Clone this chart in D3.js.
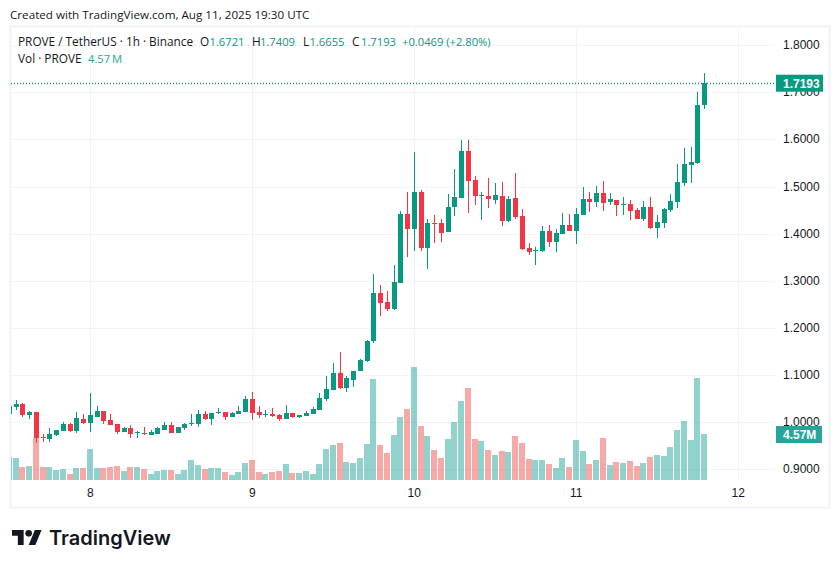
<!DOCTYPE html>
<html><head><meta charset="utf-8">
<script src="https://cdn.jsdelivr.net/npm/d3@7"></script>
<style>html,body{margin:0;padding:0;background:#fff}svg{display:block}</style></head>
<body><svg id="c" width="839" height="568"></svg>
<script>
const startHourOffset = -12; // first candle: 12:00 on the 7th, counted from 00:00 on the 8th
const opens = [1.0177,1.0326,1.039,1.0156,1.022,.9695,.9645,.9731,.9816,.9965,.9816,1.0071,
 .9986,1.0113,1.0241,1.005,.9965,.9794,.9879,.9766,.9773,.9731,.9752,.9837,.9943,.9773,.9879,.9972,.9965,1.0177,1.0071,1.0199,1.022,1.0113,1.0177,1.022,
 1.0496,1.022,1.0156,1.0177,1.0156,1.0071,1.0199,1.0113,1.0135,1.0177,1.0262,1.0496,1.0688,1.1049,1.073,1.09,1.1092,1.1305,1.173,1.2747,1.2557,1.2409,1.2958,1.4412,
 1.4092,1.4879,1.3688,1.422,1.422,1.4029,1.456,1.4752,1.5752,1.5135,1.4794,1.4794,1.4709,1.4794,1.4263,1.4752,1.4369,1.3688,1.3625,1.3625,1.405,1.3816,1.3986,1.4178,
 1.405,1.439,1.4731,1.4667,1.4858,1.4667,1.4709,1.4603,1.4624,1.4497,1.4305,1.456,1.4114,1.422,1.4497,1.4667,1.5071,1.5454,1.5496,1.6721];
const highs = [1.0347,1.0475,1.0411,1.0241,1.022,.9752,.9879,.9837,1.0007,.9986,1.022,1.0177,
 1.0624,1.0347,1.0241,1.0177,.9965,.9901,.9943,.9816,.9901,.9837,.9901,1.0007,1.0007,.9901,.9986,1.0177,1.0262,1.0241,1.0199,1.0305,1.022,1.022,1.0347,1.056,
 1.0645,1.0347,1.0262,1.0305,1.0177,1.0369,1.0199,1.0156,1.0241,1.0326,1.0624,1.0986,1.1262,1.1496,1.0986,1.1092,1.1347,1.1752,1.3148,1.2916,1.2789,1.3337,1.4476,1.4879,
 1.573,1.4922,1.4305,1.439,1.4305,1.4837,1.5369,1.5986,1.5986,1.522,1.4879,1.5177,1.5071,1.5092,1.4794,1.5284,1.4518,1.3795,1.371,1.4156,1.4178,1.4092,1.4433,1.4412,
 1.4539,1.4986,1.4879,1.5007,1.5113,1.4858,1.4709,1.4773,1.4709,1.4539,1.4688,1.4773,1.439,1.4539,1.4837,1.5475,1.5815,1.5837,1.7007,1.7409];
const lows = [1.0177,1.0262,1.0113,1.0071,.956,.9582,.9582,.9709,.9816,.9794,.9773,.9965,
 .9801,1.0113,.9965,.9943,.9752,.9794,.9667,.9667,.9731,.9731,.9752,.9837,.9773,.9773,.9837,.9922,.9901,1.005,.9943,1.0177,1.005,1.0113,1.0177,1.022,
 1.005,1.0092,1.0113,1.0113,1.0028,1.0071,1.0092,1.0092,1.0135,1.0177,1.0262,1.0454,1.0688,1.0709,1.0645,1.0752,1.1092,1.1284,1.168,1.2262,1.2367,1.2388,1.2958,1.3497,
 1.3625,1.3625,1.3242,1.3795,1.3816,1.4029,1.4369,1.4752,1.4433,1.4603,1.4284,1.4539,1.4624,1.4156,1.4241,1.4305,1.3646,1.354,1.3327,1.3603,1.371,1.3603,1.3986,1.405,
 1.3773,1.439,1.4454,1.456,1.4475,1.4603,1.4369,1.439,1.4284,1.4305,1.4263,1.4092,1.3901,1.4114,1.4454,1.4539,1.5007,1.5071,1.5475,1.6655];
const closes = [1.0347,1.039,1.0156,1.022,.9667,.9674,.9752,.9837,.9965,.9816,1.0092,.9986,
 1.0156,1.0241,1.0028,.9943,.9794,.9879,.9752,.9787,.9759,.9794,.9879,.9943,.9773,.9901,.9965,.9986,1.0177,1.0071,1.0199,1.022,1.0113,1.0199,1.0241,1.0496,
 1.0199,1.0156,1.0177,1.0135,1.0071,1.0199,1.0113,1.0156,1.0199,1.0284,1.0518,1.0709,1.1049,1.073,1.0943,1.1092,1.1326,1.173,1.2747,1.2536,1.2409,1.2979,1.4412,1.4092,
 1.4879,1.3688,1.422,1.4199,1.4007,1.456,1.4773,1.5752,1.5113,1.4794,1.4816,1.4731,1.4816,1.4263,1.4731,1.4348,1.3667,1.3603,1.3646,1.405,1.3816,1.4007,1.4178,1.405,
 1.4412,1.4731,1.4667,1.4858,1.4645,1.4731,1.4603,1.4624,1.4475,1.4305,1.456,1.4114,1.4241,1.4518,1.4688,1.5092,1.5475,1.5518,1.673,1.7193];
const volumes = [2.28,2.19,1.29,1.39,4.17,1.29,1.29,.99,1.09,.60,1.19,1.19,
 3.08,1.19,1.19,1.29,1.39,.89,1.29,1.29,1.09,.60,.89,.99,.99,.60,.99,1.99,1.49,1.09,1.19,1.19,.79,.50,.79,1.69,
 1.99,.79,.60,.79,.89,1.59,.70,.70,.89,.60,1.59,3.08,3.48,3.68,1.79,1.69,2.19,3.58,10.03,3.48,2.68,4.47,6.26,7.05,
 11.23,5.36,4.37,2.98,2.19,4.07,5.76,7.85,9.14,4.07,3.87,2.98,2.48,2.88,2.78,4.37,3.68,2.09,1.99,1.99,1.59,1.19,2.19,1.29,
 3.97,2.88,1.59,1.99,4.17,1.49,1.79,1.69,1.89,1.39,1.69,2.28,2.48,2.38,3.28,4.97,5.86,3.97,10.13,4.57];
const priceTicks = [1.8,1.7,1.6,1.5,1.4,1.3,1.2,1.1,1.0,0.9];
const dayTicks = [8,9,10,11,12];
const lastClose = 1.7193, lastVolumeLabel = "4.57M";
const legendLine1 = [["PROVE / TetherUS · 1h · Binance",18,"i"],["O",200,"i"],["1.6721",209.5,"v"],["H",252,"i"],["1.7409",260,"v"],["L",303,"i"],["1.6655",309.5,"v"],["C",352,"i"],["1.7193",361,"v"],["+0.0469 (+2.80%)",402,"v"]];

const UP="#089981", DOWN="#f23645", INK="#131722", GRID="#f2f3f6", FRAME="#f0f3fa";
const UI="'Open Sans',sans-serif", AX="'Liberation Sans',sans-serif";
const svg=d3.select("#c");
const plotL=10,plotR=775,plotT=27,plotB=480;
const x=d3.scaleLinear().domain([0,24]).range([90.3,252.3]);
const y=d3.scaleLinear().domain([0.9,1.7]).range([469.3,92.3]);
const hv=d3.scaleLinear().domain([0,4.57]).range([0,46]);
const px=t=>Math.floor(x(t));
const rows=opens.map((o,k)=>({t:k+startHourOffset,o,h:highs[k],l:lows[k],c:closes[k],v:volumes[k]}));

svg.append("text").attr("x",10).attr("y",19).attr("font-family",UI).attr("font-size",11.66).attr("fill",INK).text("Created with TradingView.com, Aug 11, 2025 19:30 UTC");
svg.append("rect").attr("x",10.5).attr("y",26.5).attr("width",819).attr("height",481).attr("fill","#fff").attr("stroke",FRAME).attr("stroke-width",2);

const grid=svg.append("g").attr("stroke",GRID).attr("shape-rendering","crispEdges");
grid.selectAll(".h").data(priceTicks).join("line").attr("x1",plotL+1).attr("x2",plotR).attr("y1",d=>Math.round(y(d))+.5).attr("y2",d=>Math.round(y(d))+.5);
grid.selectAll(".v").data(dayTicks).join("line").attr("y1",plotT+1).attr("y2",plotB).attr("x1",d=>px((d-8)*24)+.5).attr("x2",d=>px((d-8)*24)+.5);

svg.append("defs").append("clipPath").attr("id","plot").append("rect").attr("x",plotL+1).attr("y",plotT).attr("width",plotR-plotL).attr("height",plotB-plotT);
const plot=svg.append("g").attr("clip-path","url(#plot)").attr("shape-rendering","crispEdges");
plot.selectAll(".vol").data(rows).join("rect").attr("x",d=>px(d.t)-3).attr("width",6)
  .attr("y",d=>plotB-hv(d.v)).attr("height",d=>hv(d.v)).attr("fill",d=>d.c>=d.o?"#26a69a":"#ef5350").attr("fill-opacity",.5);
plot.selectAll(".wick").data(rows).join("line").attr("x1",d=>px(d.t)+.5).attr("x2",d=>px(d.t)+.5)
  .attr("y1",d=>y(d.h)).attr("y2",d=>y(d.l)).attr("stroke",d=>d.c>=d.o?UP:DOWN);
plot.selectAll(".body").data(rows).join("rect").attr("x",d=>px(d.t)-2).attr("width",5)
  .attr("y",d=>y(Math.max(d.o,d.c))).attr("height",d=>Math.max(1,Math.abs(y(d.o)-y(d.c)))).attr("fill",d=>d.c>=d.o?UP:DOWN);

svg.append("line").attr("x1",plotL+1).attr("x2",plotR).attr("y1",Math.round(y(lastClose))+.5).attr("y2",Math.round(y(lastClose))+.5)
  .attr("stroke",UP).attr("stroke-width",1.5).attr("stroke-dasharray","1 2");

svg.selectAll(".pt").data(priceTicks).join("text").attr("x",783).attr("y",d=>y(d)+4).attr("font-family",AX).attr("font-size",12).attr("fill",INK).text(d=>d.toFixed(4));
svg.selectAll(".dt").data(dayTicks).join("text").attr("x",d=>x((d-8)*24)).attr("y",497).attr("text-anchor","middle").attr("font-family",AX).attr("font-size",12).attr("fill",INK).text(d=>d);

const tag=(yy,w,fill,txt)=>{svg.append("rect").attr("x",776).attr("y",yy-8.5).attr("width",w).attr("height",17).attr("fill",fill);
 svg.append("text").attr("x",783).attr("y",yy+4.5).attr("font-family",AX).attr("font-size",12).attr("font-weight",700).attr("fill","#fff").text(txt);};
tag(y(lastClose),47,UP,lastClose.toFixed(4));
tag(434.5,46,"#26a69a",lastVolumeLabel);

const lg=svg.append("g").attr("font-family",UI).attr("font-size",11.8);
lg.selectAll("text.a").data(legendLine1).join("text").attr("class","a").attr("x",d=>d[1]).attr("y",46).attr("font-size",d=>d[2]=="v"?11.2:11.8).attr("fill",d=>d[2]=="v"?UP:INK).text(d=>d[0]);
lg.append("text").attr("x",18).attr("y",63).attr("fill",INK).text("Vol · PROVE");
lg.append("text").attr("x",88).attr("y",63).attr("font-size",11.2).attr("fill","#26a69a").text(lastVolumeLabel.replace("M","\u2009M"));

const logo=svg.append("g").attr("transform","translate(12,526.7) scale(.833)").attr("fill",INK);
logo.append("path").attr("d","M14 22H7V11H0V4h14v18zM28 22h-8l7.5-18h8L28 22z");
logo.append("circle").attr("cx",20).attr("cy",8).attr("r",4);
svg.append("text").attr("x",49).attr("y",545).attr("font-family","Inter,sans-serif").attr("font-weight",600).attr("font-size",20).attr("fill",INK).text("TradingView");
</script></body></html>
